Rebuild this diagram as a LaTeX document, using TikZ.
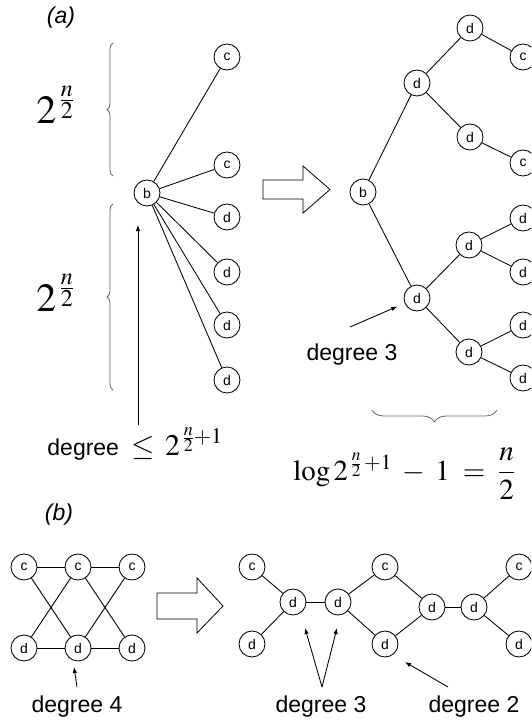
\documentclass[tikz,border=0pt]{standalone}
\usepackage{mathptmx}
\usepackage[no-math]{fontspec}
\setmainfont{Liberation Sans}
\usetikzlibrary{arrows.meta,decorations.pathreplacing}

\begin{document}
\begin{tikzpicture}[x=1pt, y=-1pt, line width=0.85pt, >={Latex[length=6pt,width=4.5pt]},
  vtx/.style={draw, circle, minimum size=26pt, inner sep=0pt, font=\fontsize{14}{16}\selectfont},
  lbl/.style={font=\fontsize{23}{27}\selectfont, inner sep=0pt},
  tag/.style={font=\fontsize{23}{27}\selectfont\itshape, inner sep=0pt},
  brc/.style={draw=black!60, line width=0.8pt, decorate, decoration={brace, amplitude=#1}},
  brc/.default=6,
  hollow/.style={draw, line width=0.8pt, fill=white, line join=miter}]
\useasboundingbox (0,0) rectangle (531,724);
\clip (0,0) rectangle (531,724);
% (a) one node b with many children
\node[tag] (ta) at (61,18) {(a)};
\node[vtx] (b0) at (147,193) {b};
\node[vtx] (c1) at (227,57) {c};
\node[vtx] (c2) at (227,165) {c};
\foreach \n/\y in {1/217,2/272,3/325,4/380}
  \node[vtx] (d\n) at (227,\y) {d};
\foreach \t in {c1,c2,d1,d2,d3,d4}
  \draw (b0) -- (\t);
\draw[brc] (113,176) -- (113,43);
\draw[brc] (113,390) -- (113,204);
\node[anchor=base west, inner sep=0pt, font=\fontsize{40}{48}\selectfont] (p1) at (36,123) {$2^{\,\frac{n}{2}}$};
\node[anchor=base west, inner sep=0pt, font=\fontsize{40}{48}\selectfont] (p2) at (36,311) {$2^{\,\frac{n}{2}}$};
\coordinate (s0) at (138,425);
\coordinate (s1) at (138,225);
\draw[->] (s0) -- (s1);
\node[lbl, anchor=base west] (dega) at (47,455) {degree\ \ {\fontsize{30}{36}\selectfont$\le\, 2^{\,\frac{n}{2}+1}$}};
% transformation arrow
\draw[hollow] (263,180) -- (303,180) -- (303,166) -- (330,189.5) -- (303,213) -- (303,199) -- (263,199) -- cycle;
% (a) binary tree of d nodes
\node[vtx] (r0) at (363,192) {b};
\node[vtx] (u1) at (417,83) {d};
\node[vtx] (u2) at (470,28) {d};
\node[vtx] (u3) at (470,137) {d};
\node[vtx] (uc1) at (523,57) {c};
\node[vtx] (uc2) at (523,163) {c};
\node[vtx] (l1) at (417,298) {d};
\node[vtx] (l2) at (469,245) {d};
\node[vtx] (l3) at (469,352) {d};
\foreach \n/\y in {1/218,2/272,3/325,4/378}
  \node[vtx] (lf\n) at (523,\y) {d};
\foreach \a/\b in {r0/u1,r0/l1,u1/u2,u1/u3,u2/uc1,u3/uc2,l1/l2,l1/l3,l2/lf1,l2/lf2,l3/lf3,l3/lf4}
  \draw (\a)--(\b);
\node[lbl] (degb) at (352,355) {degree 3};
\coordinate (s2) at (350,327);
\draw[->, shorten >=8pt] (s2) -- (l1);
\draw[brc=12] (497,410) -- (372,410);
\node[anchor=base west, inner sep=0pt, font=\fontsize{29}{35}\selectfont] (lg) at (293,480) {$\log 2^{\,\frac{n}{2}\,+1}\;-\;1\;=\;\displaystyle\frac{n}{2}$};
% (b) crossing ladder
\node[tag] (tb) at (59,515) {(b)};
\foreach \n/\x in {1/24,2/78,3/132} {
  \node[vtx] (bc\n) at (\x,567) {c};
  \node[vtx] (bd\n) at (\x,648) {d};
}
\foreach \a/\b in {bc1/bc2,bc2/bc3,bd1/bd2,bd2/bd3,bc1/bd2,bd1/bc2,bc2/bd3,bd2/bc3}
  \draw (\a)--(\b);
\coordinate (s3) at (77,687);
\coordinate (s4) at (74,667);
\draw[->] (s3) -- (s4);
\node[lbl] (deg4) at (77,707) {degree 4};
\draw[hollow] (157,593) -- (197,593) -- (197,578) -- (223,606) -- (197,633) -- (197,619) -- (157,619) -- cycle;
% (b) after splitting
\node[vtx] (rc1) at (252,567) {c};
\node[vtx] (rd1) at (252,644) {d};
\node[vtx] (m1) at (293,602) {d};
\node[vtx] (m2) at (338,602) {d};
\node[vtx] (rc2) at (385,567) {c};
\node[vtx] (rd2) at (385,644) {d};
\node[vtx] (m3) at (432,607) {d};
\node[vtx] (m4) at (474,607) {d};
\node[vtx] (rc3) at (519,567) {c};
\node[vtx] (rd3) at (519,644) {d};
\foreach \a/\b in {rc1/m1,rd1/m1,m1/m2,m2/rc2,m2/rd2,rc2/m3,rd2/m3,m3/m4,m4/rc3,m4/rd3}
  \draw (\a)--(\b);
\coordinate (s5) at (322,687);
\coordinate (s6) at (305,628);
\coordinate (s7) at (337,628);
\draw[->] (s5) -- (s6);
\draw[->] (s5) -- (s7);
\node[lbl] (deg3) at (321,707) {degree 3};
\coordinate (s8) at (448,687);
\coordinate (s9) at (405,662);
\draw[->] (s8) -- (s9);
\node[lbl] (deg2) at (474,707) {degree 2};
\end{tikzpicture}
\end{document}
